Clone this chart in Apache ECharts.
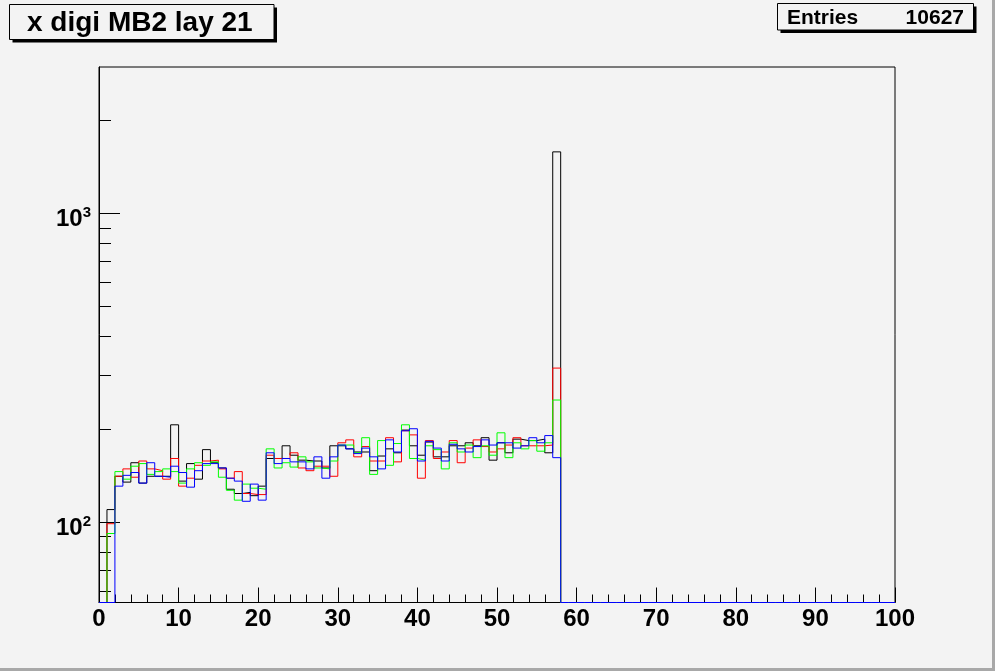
<!DOCTYPE html>
<html>
<head>
<meta charset="utf-8">
<script src="https://cdn.jsdelivr.net/npm/echarts@6/dist/echarts.min.js"></script>
<style>
html,body{margin:0;padding:0;background:#f3f3f3;}
#chart{width:995px;height:671px;}
</style>
</head>
<body>
<div id="chart"></div>
<script>
// Bin contents (bin i covers [i, i+1]); bins 58..99 are empty
const blackCounts = [0,110,141,135,156,134,141,141,141,207,136,155,138,172,156,150,128,124,125,122,131,161,161,177,165,159,158,158,150,177,177,173,169,169,147,164,173,168,199,177,165,182,163,163,177,177,181,177,188,159,181,168,186,184,184,186,168,1585];
const redCounts   = [0,99,141,149,140,158,149,147,138,161,131,139,153,158,159,149,139,146,124,123,123,165,161,161,168,150,147,152,152,141,181,185,163,176,158,158,188,157,198,192,139,184,161,169,184,156,174,185,176,169,173,178,188,177,177,177,178,316];
const greenCounts = [0,92,146,138,152,155,143,146,149,146,134,149,156,153,157,140,127,118,133,129,128,173,150,156,151,163,157,150,149,158,178,178,168,188,143,184,153,180,207,161,159,177,172,149,181,169,178,162,177,165,195,162,181,173,184,170,181,249];
const blueCounts  = [0,0,131,142,145,134,156,141,140,152,145,130,147,155,155,150,139,136,117,133,118,168,155,161,157,157,149,163,139,163,178,173,167,174,163,149,185,169,198,201,158,183,174,158,179,173,169,176,185,178,181,181,174,177,188,181,191,162];
const NBINS = 100;
const xTickLabels = ['0','10','20','30','40','50','60','70','80','90','100'];
const yMajorTicks = [100, 1000];
const yMinorTicks = [60,70,80,90,200,300,400,500,600,700,800,900,2000];
const Y_MIN = 55, Y_MAX = 2985;
const titleText = 'x digi MB2 lay 21';
const entriesLabel = 'Entries';
const entriesValue = '10627';

function stepData(counts){
  const pts = [];
  for (let i = 0; i < NBINS; i++) {
    const v = i < counts.length ? counts[i] : 0;
    pts.push([i, Math.max(v, Y_MIN)]);
  }
  pts.push([NBINS, pts[NBINS-1][1]]);
  return pts;
}

const FONT = '"Liberation Sans", Arial, Helvetica, sans-serif';
const chart = echarts.init(document.getElementById('chart'), null, {renderer:'canvas'});

function mkSeries(name, counts, color){
  return {
    name, type:'line', step:'end', data: stepData(counts),
    showSymbol:false, symbol:'none', animation:false,
    lineStyle:{color, width:1}, itemStyle:{color},
    xAxisIndex:0, yAxisIndex:0, z:2
  };
}

const option = {
  backgroundColor:'#f3f3f3',
  animation:false,
  grid:{left:99, right:100, top:67, bottom:68.5, show:true, borderColor:'#000', borderWidth:1, backgroundColor:'transparent'},
  xAxis:{
    type:'value', min:0, max:100, interval:10,
    axisLine:{show:true, lineStyle:{color:'#000', width:1}},
    axisTick:{show:true, inside:true, length:15, lineStyle:{color:'#000', width:1}},
    minorTick:{show:true, splitNumber:5, length:8, lineStyle:{color:'#000', width:1}},
    splitLine:{show:false},
    axisLabel:{
      show:true, margin:5, color:'#000', fontFamily:FONT, fontWeight:'bold', fontSize:24,
      formatter:(v)=>{ const i = Math.round(v/10); return xTickLabels[i] !== undefined ? xTickLabels[i] : ''; }
    }
  },
  yAxis:[{
    type:'log', logBase:10, min:Y_MIN, max:Y_MAX, position:'left',
    axisLine:{show:true, lineStyle:{color:'#000', width:1}},
    axisTick:{show:true, inside:true, length:21, customValues:yMajorTicks, lineStyle:{color:'#000', width:1}},
    splitLine:{show:false},
    minorTick:{show:false},
    axisLabel:{
      show:true, customValues:yMajorTicks, margin:8, padding:[12,0,0,0],
      formatter:(v)=>{ const e = Math.round(Math.log10(v)); return '{b|10}{s|' + e + '}'; },
      rich:{
        b:{fontFamily:FONT, fontWeight:'bold', fontSize:24, color:'#000', lineHeight:28},
        s:{fontFamily:FONT, fontWeight:'bold', fontSize:15, color:'#000', verticalAlign:'top', lineHeight:28}
      }
    }
  },{
    type:'log', logBase:10, min:Y_MIN, max:Y_MAX, position:'left',
    axisLine:{show:false},
    axisTick:{show:true, inside:true, length:12, customValues:yMinorTicks, lineStyle:{color:'#000', width:1}},
    splitLine:{show:false},
    axisLabel:{show:false}
  }],
  series:[
    mkSeries('black', blackCounts, '#000000'),
    mkSeries('red', redCounts, '#ff0000'),
    mkSeries('green', greenCounts, '#00ff00'),
    mkSeries('blue', blueCounts, '#0000ff')
  ],
  graphic:[
    // title box with shadow
    {type:'rect', shape:{x:12.5, y:7.5, width:264.5, height:35}, style:{fill:'#000'}, z:10},
    {type:'rect', shape:{x:9.5, y:4.5, width:264.5, height:35}, style:{fill:'#f3f3f3', stroke:'#000', lineWidth:1}, z:11},
    {type:'text', x:27, y:23, style:{text:titleText, font:'bold 28px ' + FONT, fill:'#000', textVerticalAlign:'middle'}, z:12},
    // stats box
    {type:'rect', shape:{x:780.5, y:6.5, width:196, height:26.5}, style:{fill:'#000'}, z:10},
    {type:'rect', shape:{x:777.5, y:3.5, width:196, height:26.5}, style:{fill:'#f3f3f3', stroke:'#000', lineWidth:1}, z:11},
    {type:'text', x:787, y:18, style:{text:entriesLabel, font:'bold 21px ' + FONT, fill:'#000', textVerticalAlign:'middle'}, z:12},
    {type:'text', x:964, y:18, style:{text:entriesValue, font:'bold 21px ' + FONT, fill:'#000', textAlign:'right', textVerticalAlign:'middle'}, z:12},
    // canvas border (right / bottom)
    {type:'rect', shape:{x:992, y:0, width:3, height:671}, style:{fill:'#a8a8a8'}, z:5},
    {type:'rect', shape:{x:0, y:668, width:995, height:3}, style:{fill:'#a8a8a8'}, z:5}
  ]
};
chart.setOption(option);
</script>
</body>
</html>
